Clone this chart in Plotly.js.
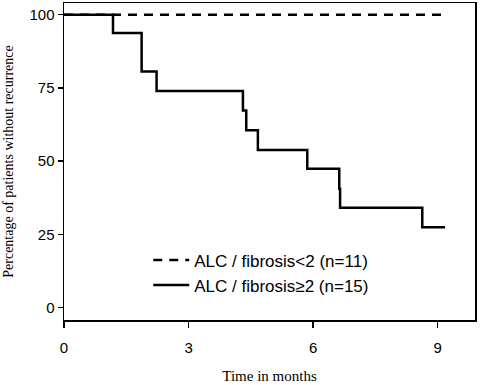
<!DOCTYPE html>
<html>
<head>
<meta charset="utf-8">
<script src="https://cdn.plot.ly/plotly-3.0.1.min.js"></script>
<style>html,body{margin:0;padding:0;background:#fff;}#chart{width:480px;height:385px;}</style>
</head>
<body>
<div id="chart"></div>
<script>
// Kaplan-Meier curves, time in months, % without recurrence
var seriesNames = ["ALC / fibrosis<2 (n=11)", "ALC / fibrosis\u22652 (n=15)"];
var timeLow = [0, 9.18];
var survLow = [100, 100];
var timeHigh = [0, 1.18, 1.87, 2.23, 4.31, 4.39, 4.67, 5.86, 6.63, 6.65, 8.63, 9.18];
var survHigh = [100, 93.8, 80.6, 74.0, 67.3, 60.6, 53.8, 47.4, 40.6, 34.1, 27.5, 27.5];
var xTicks = [0, 3, 6, 9];
var yTicks = [0, 25, 50, 75, 100];

var traces = [
  {x: timeLow, y: survLow, name: seriesNames[0], mode: "lines",
   line: {color: "#000", width: 2.5, dash: "9px,7px", shape: "hv"}},
  {x: timeHigh, y: survHigh, name: seriesNames[1], mode: "lines",
   line: {color: "#000", width: 2.5, shape: "hv"}}
];

var layout = {
  width: 480, height: 385,
  margin: {l: 64, r: 5, t: 3, b: 65},
  paper_bgcolor: "#fff", plot_bgcolor: "#fff",
  font: {family: "Liberation Sans, Arial, sans-serif", color: "#000", size: 15},
  showlegend: true,
  legend: {x: 0.205, y: 0.245, xanchor: "left", yanchor: "top", itemwidth: 36,
           bgcolor: "rgba(0,0,0,0)", font: {size: 17, family: "Liberation Sans, Arial, sans-serif"},
           tracegroupgap: 0},
  xaxis: {range: [0, 9.9], tickvals: xTicks, ticktext: xTicks.map(String),
          showgrid: false, zeroline: false, showline: true, mirror: true,
          linecolor: "#000", linewidth: 1.5, ticks: "outside", ticklen: 6, tickwidth: 1.5,
          tickcolor: "#000", tickfont: {size: 15}, ticklabelstandoff: 7,
          title: {text: "Time in months", standoff: 16,
                  font: {family: "Liberation Serif, Times New Roman, serif", size: 15}}},
  yaxis: {range: [-4.2, 104], tickvals: yTicks, ticktext: yTicks.map(String),
          showgrid: false, zeroline: false, showline: true, mirror: true,
          linecolor: "#000", linewidth: 1.5, ticks: "outside", ticklen: 5, tickwidth: 1.5,
          tickcolor: "#000", tickfont: {size: 15},
          title: {text: "Percentage of patients without recurrence", standoff: 12,
                  font: {family: "Liberation Serif, Times New Roman, serif", size: 14}}}
};

Plotly.newPlot("chart", traces, layout, {displayModeBar: false, staticPlot: true});
</script>
</body>
</html>
